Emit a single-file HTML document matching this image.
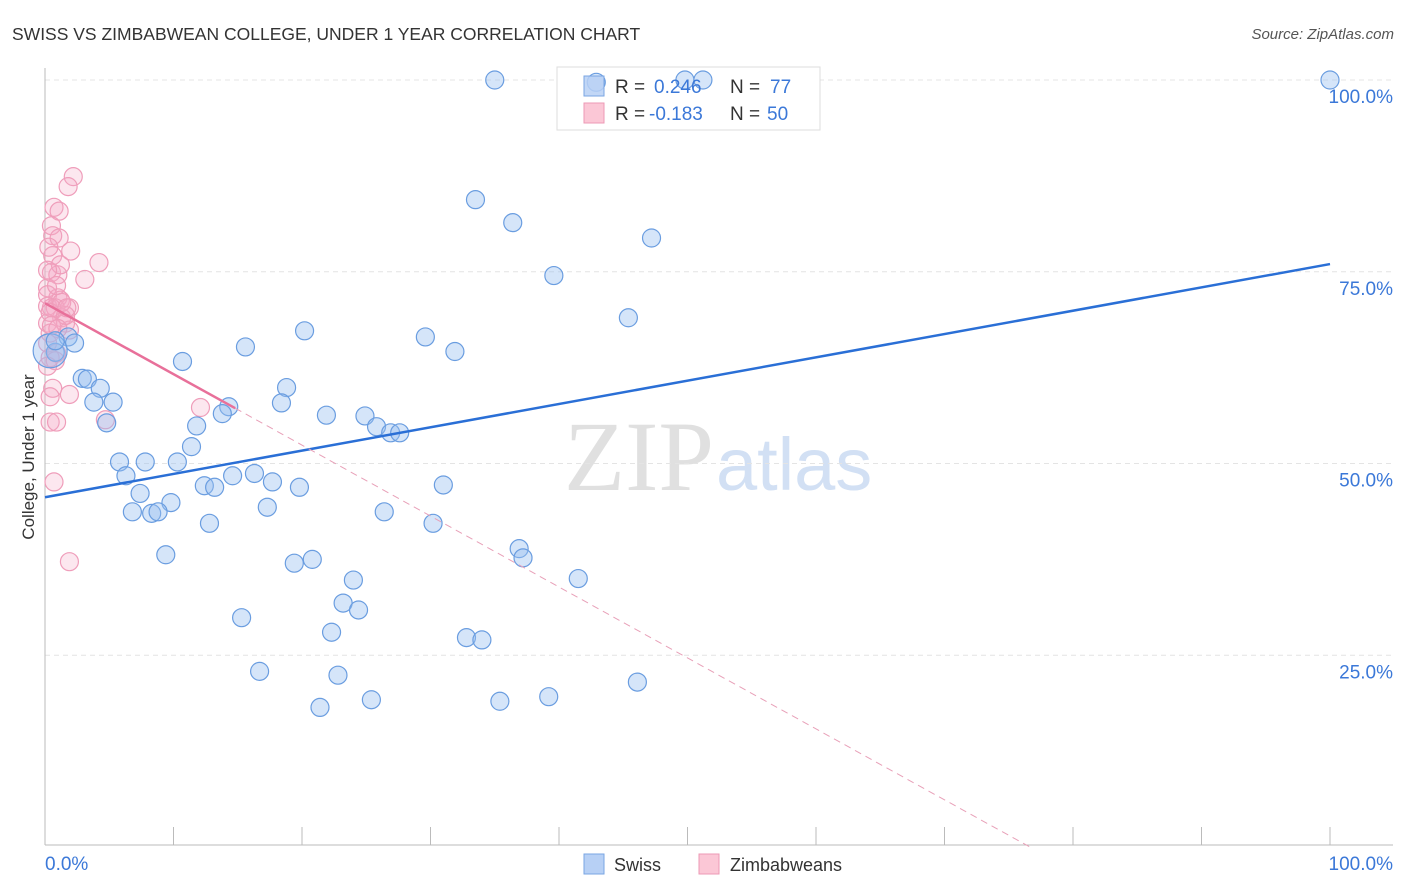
<!DOCTYPE html>
<html><head><meta charset="utf-8"><style>
body{margin:0;background:#fff;font-family:"Liberation Sans",sans-serif}
svg{display:block}
</style></head><body>
<svg id="c" width="1406" height="892" xmlns="http://www.w3.org/2000/svg">
<text x="12" y="40" font-size="17.5" fill="#333">SWISS VS ZIMBABWEAN COLLEGE, UNDER 1 YEAR CORRELATION CHART</text>
<text x="1394" y="39" font-size="15" fill="#555" text-anchor="end" font-style="italic">Source: ZipAtlas.com</text>
<text x="714" y="490" font-size="100" fill="#e0e0e0" text-anchor="end" font-family="Liberation Serif,serif">ZIP</text>
<text x="716" y="490" font-size="74" fill="#d2e0f4">atlas</text>
<g id="grid"></g>
<g>
<rect x="557" y="67" width="263" height="63" fill="#fff" stroke="#ddd"/>
</g>
<g id="pts"></g>
<g id="lines"></g>
<text transform="translate(34,457) rotate(-90)" font-size="17" fill="#333" text-anchor="middle">College, Under 1 year</text>
<g>
<rect x="584" y="76" width="20" height="20" fill="#b7d0f5" fill-opacity="0.85" stroke="#7aa6e3"/>
<rect x="584" y="103" width="20" height="20" fill="#fbc7d6" stroke="#ec9ab5"/>
<text x="615" y="93" font-size="19" fill="#333">R = </text><text x="654" y="93" font-size="19" fill="#3b78d8">0.246</text>
<text x="730" y="93" font-size="19" fill="#333">N = </text><text x="770" y="93" font-size="19" fill="#3b78d8">77</text>
<text x="615" y="120" font-size="19" fill="#333">R = </text><text x="649" y="120" font-size="19" fill="#3b78d8">-0.183</text>
<text x="730" y="120" font-size="19" fill="#333">N = </text><text x="767" y="120" font-size="19" fill="#3b78d8">50</text>
</g>
<g>
<rect x="584" y="854" width="20" height="20" fill="#b7d0f5" stroke="#7aa6e3"/>
<text x="614" y="871" font-size="18" fill="#333">Swiss</text>
<rect x="699" y="854" width="20" height="20" fill="#fbc7d6" stroke="#ec9ab5"/>
<text x="730" y="871" font-size="18" fill="#333">Zimbabweans</text>
</g>
</svg>
<script>
const yTicks=[100,75,50,25];
const yTickLabels=["100.0%","75.0%","50.0%","25.0%"];
const xTickCount=10;
const swissX=[35.0,42.9,49.8,51.2,100,33.5,36.4,47.2,39.6,45.4,20.2,29.6,15.6,31.9,10.7,1.8,2.3,0.8,2.9,3.3,4.3,18.8,3.8,5.3,14.3,13.8,18.4,21.9,24.9,25.8,26.9,27.6,11.8,4.8,11.4,5.8,7.8,10.3,6.3,14.6,16.3,17.7,12.4,13.2,19.8,31.0,7.4,9.8,6.8,8.3,8.8,17.3,26.4,12.8,30.2,36.9,37.2,9.4,19.4,20.8,41.5,24.0,23.2,24.4,15.3,22.3,32.8,34.0,16.7,22.8,46.1,39.2,25.4,35.4,21.4,0.4,0.8];
const swissY=[100,99.7,100,100,100,84.4,81.4,79.4,74.5,69.0,67.3,66.5,65.2,64.6,63.3,66.5,65.7,64.5,61.1,61.0,59.8,59.9,58.0,58.0,57.4,56.5,57.9,56.3,56.2,54.8,54.0,54.0,54.9,55.3,52.2,50.2,50.2,50.2,48.4,48.4,48.7,47.6,47.1,46.9,46.9,47.2,46.1,44.9,43.7,43.5,43.7,44.3,43.7,42.2,42.2,38.9,37.7,38.1,37.0,37.5,35.0,34.8,31.8,30.9,29.9,28.0,27.3,27.0,22.9,22.4,21.5,19.6,19.2,19.0,18.2,64.7,66.0];
const swissR=[9,9,9,9,9,9,9,9,9,9,9,9,9,9,9,9,9,9,9,9,9,9,9,9,9,9,9,9,9,9,9,9,9,9,9,9,9,9,9,9,9,9,9,9,9,9,9,9,9,9,9,9,9,9,9,9,9,9,9,9,9,9,9,9,9,9,9,9,9,9,9,9,9,9,9,17,9];
const zimX=[2.2,1.8,0.7,1.1,0.5,0.6,1.1,2.0,0.6,4.2,0.5,1.0,3.1,0.2,1.0,0.2,1.2,1.9,0.2,0.8,1.3,1.6,1.9,0.2,0.4,0.2,0.9,0.4,0.6,1.9,0.4,4.7,0.4,0.9,0.7,1.9,12.1,0.5,1.2,0.2,0.4,1.6,0.5,0.8,0.2,1.3,0.9,1.7,0.3,1.0];
const zimY=[87.4,86.1,83.4,82.9,81.0,79.7,79.4,77.7,77.1,76.2,74.9,74.6,74.0,72.9,71.6,72.0,71.3,70.3,70.5,70.3,69.0,68.3,67.4,68.3,67.0,65.7,64.4,63.8,59.8,59.0,58.7,55.7,55.4,55.4,47.6,37.2,57.3,70.3,75.9,75.2,69.7,69.3,68.0,63.4,62.7,71.0,73.2,70.3,78.2,67.6];
const swissFit=[45.6,76.0];
const zimFit=[70.9,-0.925];
const NS="http://www.w3.org/2000/svg";
const X0=45,X1=1330,Y100=80,Y0=847;
const sx=v=>X0+(X1-X0)*v/100;
const sy=v=>Y0-(Y0-Y100)*v/100;
function mk(t,a,p){const e=document.createElementNS(NS,t);for(const k in a)e.setAttribute(k,a[k]);p.appendChild(e);return e;}
const grid=document.getElementById('grid');
yTicks.forEach((t,i)=>{
 const l=mk('line',{x1:X0,x2:1393,y1:sy(t),y2:sy(t),stroke:'#e4e4e4','stroke-dasharray':'5,4'},grid);
 
 
 const tx=mk('text',{x:1393,y:sy(t)+23,'font-size':19,fill:'#3b78d8','text-anchor':'end'},grid);
 tx.textContent=yTickLabels[i];
 
 
});
mk('line',{x1:X0,x2:X0,y1:68,y2:845,stroke:'#bbb'},grid);
mk('line',{x1:X0,x2:1393,y1:845,y2:845,stroke:'#bbb'},grid);
for(let i=1;i<=xTickCount;i++){const x=sx(i*100/xTickCount);mk('line',{x1:x,x2:x,y1:827,y2:845,stroke:'#bbb'},grid);}
const xl0=mk('text',{x:45,y:870,'font-size':19,fill:'#3b78d8'},grid);xl0.textContent='0.0%';


const xl1=mk('text',{x:1393,y:870,'font-size':19,fill:'#3b78d8','text-anchor':'end'},grid);xl1.textContent='100.0%';


const pts=document.getElementById('pts');
zimX.forEach((v,i)=>{const c=mk('circle',{cx:sx(v),cy:sy(zimY[i]),r:9,fill:'rgba(246,170,196,0.28)',stroke:'#ef9dba','stroke-width':1.2},pts);
 
 });
swissX.forEach((v,i)=>{const c=mk('circle',{cx:sx(v),cy:sy(swissY[i]),r:swissR[i],fill:'rgba(150,190,240,0.4)',stroke:'#6a9de0','stroke-width':1.2},pts);
 
 });
const lines=document.getElementById('lines');
const bl=mk('line',{x1:sx(0),y1:sy(swissFit[0]),x2:sx(100),y2:sy(swissFit[1]),stroke:'#2a6fd6','stroke-width':2.5},lines);


const zEnd=-zimFit[0]/zimFit[1];
const pl=mk('line',{x1:sx(0),y1:sy(zimFit[0]),x2:sx(14.8),y2:sy(zimFit[0]+zimFit[1]*14.8),stroke:'#e8709a','stroke-width':2.5},lines);


const pd=mk('line',{x1:sx(14.8),y1:sy(zimFit[0]+zimFit[1]*14.8),x2:sx(zEnd),y2:sy(0),stroke:'#e8a0b8','stroke-width':1,'stroke-dasharray':'7,5'},lines);


</script>
</body></html>
